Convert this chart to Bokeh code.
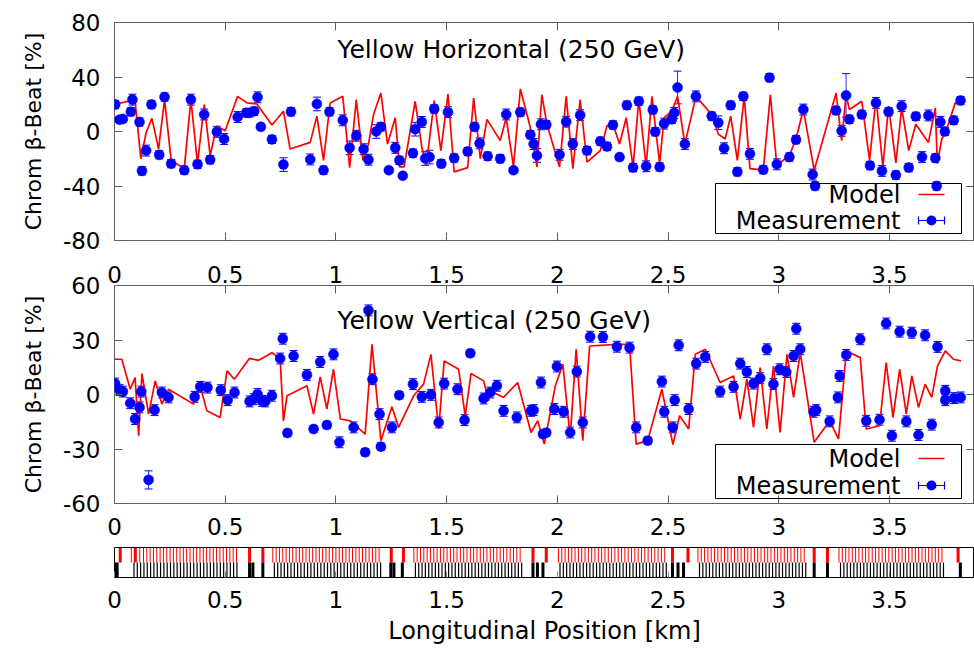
from bokeh.embed import file_html
from bokeh.layouts import column
from bokeh.models import (BoxAnnotation, ColumnDataSource, CustomJSTickFormatter,
                          FixedTicker, Label, LinearAxis, Range1d, TeeHead, Whisker)
from bokeh.plotting import figure
from bokeh.resources import INLINE

# ---------------- data ----------------
X_TICKS = [0, 0.5, 1, 1.5, 2, 2.5, 3, 3.5]
H_TICKS = [-80, -40, 0, 40, 80]
V_TICKS = [-60, -30, 0, 30, 60]

# Horizontal plane: measured chromatic beta-beat at BPMs [km, %, %]
H_KM = [0.003, 0.023, 0.038, 0.074, 0.081, 0.113, 0.124, 0.143, 0.167, 0.202,
        0.226, 0.256, 0.315, 0.345, 0.375, 0.405, 0.432, 0.462, 0.495, 0.556,
        0.595, 0.610, 0.631, 0.646, 0.661, 0.711, 0.763, 0.797, 0.884, 0.914,
        0.944, 0.971, 1.031, 1.062, 1.092, 1.125, 1.147, 1.182, 1.203, 1.239,
        1.268, 1.287, 1.302, 1.348, 1.358, 1.388, 1.403, 1.423, 1.444, 1.476,
        1.506, 1.534, 1.595, 1.626, 1.649, 1.685, 1.742, 1.769, 1.802, 1.833,
        1.878, 1.893, 1.908, 1.926, 1.950,
        2.010, 2.040, 2.070, 2.103, 2.134, 2.194, 2.224, 2.251, 2.281, 2.314,
        2.342, 2.368, 2.401, 2.431, 2.442, 2.462, 2.482, 2.517, 2.528, 2.543,
        2.576, 2.626, 2.697, 2.727, 2.753, 2.783, 2.813, 2.840, 2.870, 2.930,
        2.958, 2.991, 3.048, 3.078, 3.111, 3.153, 3.164, 3.259, 3.284, 3.304,
        3.319, 3.375, 3.412, 3.439, 3.466, 3.496, 3.529, 3.555, 3.587, 3.619,
        3.647, 3.676, 3.707, 3.713, 3.730, 3.750, 3.790, 3.821]
H_MEAS = [19.8, 8.7, 9.2, 14.5, 23.4, 7.0, -28.9, -14.0, 19.8, -17.1,
          25.3, -23.6, -28.4, 23.4, -24.1, 12.5, -20.7, -0.2, -5.5, 10.6,
          13.7, 13.7, 14.9, 25.1, 3.4, -5.8, -24.3, 14.5, -20.5, 20.2,
          -28.4, 14.5, 8.2, -12.0, -3.1, -13.0, -20.7, 0.0, 3.4, -28.4,
          -12.0, -21.2, -32.5, -15.9, 1.7, 7.0, -19.8, -18.8, 16.6, -23.6,
          14.2, -19.5, -14.7, 3.4, -8.7, -18.1, -20.0, 12.5, -28.4, 14.2,
          -2.4, -9.2, -17.6, 5.3, 5.0,
          -17.1, 7.2, -9.2, 12.0, -14.0, -7.2, -11.0, 4.8, -18.8, 19.3,
          -26.5, 22.2, -25.5, 15.9, -0.2, -26.0, 5.8, 8.9, 13.7, 32.3,
          -9.2, 25.8, 11.3, 6.5, -12.3, 19.3, -29.6, 25.8, -16.4, -28.0,
          39.5, -24.1, -18.8, -6.0, 16.1, -31.6, -40.0, 15.4, 0.5, 26.5,
          8.9, 12.5, -25.0, 21.0, -28.9, 14.5, -32.0, 18.6, -26.5, 11.1,
          -18.8, 11.8, -19.5, -40.0, 7.0, 0.0, 8.2, 22.7]
H_ERR = [3, 2, 2, 3, 4, 3, 3, 4, 3, 3,
         3, 3, 3, 4, 3, 4, 3, 4, 4, 4,
         3, 3, 3, 4, 2, 3, 5, 3, 4, 5,
         3, 3, 4, 5, 4, 4, 4, 5, 3, 2,
         4, 3, 2, 3, 5, 4, 5, 5, 3, 3,
         4, 3, 3, 3, 4, 3, 3, 4, 2, 3,
         3, 4, 5, 4, 3,
         4, 4, 4, 4, 3, 3, 3, 3, 2, 3,
         3, 3, 4, 3, 3, 3, 4, 3, 4, 12,
         4, 4, 3, 5, 4, 3, 3, 3, 4, 3,
         3, 4, 3, 3, 4, 4, 3, 3, 4, 16,
         3, 3, 3, 4, 4, 3, 3, 4, 3, 3,
         4, 4, 3, 3, 4, 3, 3, 3]

# Horizontal plane: model prediction
HM_KM = [0.0, 0.074, 0.093, 0.119, 0.143, 0.169, 0.199, 0.226, 0.256, 0.315,
         0.345, 0.375, 0.405, 0.432, 0.462, 0.500, 0.556, 0.598, 0.643, 0.711,
         0.763, 0.793, 0.884, 0.914, 0.944, 0.974, 1.031, 1.062, 1.092, 1.122,
         1.147, 1.170, 1.203, 1.233, 1.268, 1.287, 1.308, 1.358, 1.388, 1.408,
         1.444, 1.474, 1.506, 1.534, 1.595, 1.622, 1.652, 1.682, 1.742, 1.769,
         1.802, 1.833, 1.878, 1.908, 1.930, 1.953, 2.010, 2.040, 2.070, 2.103,
         2.134, 2.194, 2.224, 2.251, 2.281, 2.311, 2.342, 2.368, 2.401, 2.427,
         2.462, 2.482, 2.517, 2.543, 2.576, 2.626, 2.697, 2.727, 2.758, 2.783,
         2.813, 2.844, 2.870, 2.930, 2.962, 2.991, 3.048, 3.078, 3.111, 3.160,
         3.259, 3.284, 3.304, 3.319, 3.375, 3.410, 3.439, 3.470, 3.496, 3.529,
         3.555, 3.587, 3.619, 3.676, 3.707, 3.716, 3.736, 3.756, 3.797, 3.827]
HM_VAL = [19.8, 22.7, 22.2, -20.0, -0.7, 9.6, -12.8, 23.4, -21.2, -27.2,
          23.4, -23.6, 19.8, -17.6, 4.1, 0.5, 25.8, 21.0, 20.2, 4.8,
          14.9, -12.8, -8.0, 11.3, -21.2, 21.0, 25.8, -26.5, 23.4, -21.2,
          -9.2, 12.5, 28.2, -9.2, 10.1, -26.0, -26.0, 22.2, -11.6, -24.8,
          22.7, -14.0, 27.5, -29.6, -26.5, 24.6, -20.0, 8.9, -6.7, 10.1,
          -26.0, 31.3, 2.9, -26.0, 27.0, 5.3, -26.0, 25.8, -27.2, 23.4,
          -22.4, -14.0, 4.1, 5.3, -9.2, 10.1, -26.0, 23.4, -25.5, 25.8,
          -23.6, 10.1, 14.9, 25.8, -9.2, 25.8, 12.5, -1.9, -5.5, 11.3,
          -21.2, 25.8, -27.2, -28.4, 27.0, -24.8, -17.6, -5.5, 16.1, -28.4,
          28.2, -6.7, 27.0, 16.1, 22.2, -21.2, 24.6, -26.0, 18.6, -23.1,
          17.4, -14.0, 5.3, -8.0, 17.4, -23.6, -5.5, 0.5, 21.0, 21.0]

# Vertical plane: measured chromatic beta-beat at BPMs
V_KM = [0.003, 0.023, 0.038, 0.071, 0.093, 0.113, 0.121, 0.154, 0.181, 0.214,
        0.244, 0.362, 0.387, 0.420, 0.480, 0.511, 0.542, 0.610, 0.628, 0.646,
        0.666, 0.681, 0.711, 0.748, 0.760, 0.781, 0.809, 0.869, 0.899, 0.929,
        0.959, 0.989, 1.016, 1.080, 1.132, 1.147, 1.165, 1.197, 1.203, 1.253,
        1.286, 1.348, 1.388, 1.429, 1.464, 1.489, 1.549, 1.581, 1.607, 1.667,
        1.697, 1.727, 1.757, 1.817, 1.881, 1.893, 1.926, 1.935, 1.950,
        1.986, 1.998, 2.028, 2.058, 2.088, 2.115, 2.148, 2.206, 2.269, 2.326,
        2.356, 2.408, 2.472, 2.483, 2.521, 2.530, 2.548, 2.593, 2.627, 2.668,
        2.735, 2.796, 2.826, 2.856, 2.886, 2.916, 2.946, 2.976, 3.004, 3.034,
        3.067, 3.079, 3.097, 3.157, 3.169, 3.230, 3.267, 3.275, 3.305, 3.368,
        3.395, 3.455, 3.485, 3.511, 3.546, 3.576, 3.601, 3.631, 3.661, 3.691,
        3.717, 3.752, 3.752, 3.792, 3.822]
V_MEAS = [6.0, 2.4, 1.6, -4.8, -13.5, -7.1, 1.6, -47.0, -8.6, 1.1,
          -1.6, -1.3, 4.2, 3.8, 2.4, -3.1, 1.1, -3.8, -2.6, 0.2,
          -3.5, -3.8, -0.7, 19.8, 30.7, -21.2, 21.2, 10.8, -19.0, 17.9,
          -16.8, 22.1, -26.3, -18.1, -31.8, 46.3, 8.4, -10.8, -28.7, -18.1,
          -0.4, 5.7, -1.3, -0.2, -15.4, 6.0, 2.9, -14.1, 22.7, -2.2,
          1.1, 4.8, -9.0, -12.6, -9.0, -8.6, 6.6, -21.8, -21.0,
          -8.0, 15.4, -9.5, -20.9, 12.6, -15.4, 31.8, 31.6, 26.3, 25.8,
          -18.1, -25.4, 7.1, -9.5, -18.1, -3.1, 27.1, -8.0, 17.0, 20.7,
          1.6, 4.2, 17.0, 12.4, 6.0, 9.0, 24.9, 5.7, 13.9, 12.4,
          21.2, 36.2, 24.9, -9.5, -8.6, -14.8, -1.6, 10.2, 21.8, 30.4,
          -14.5, -13.9, 39.1, -22.7, 34.6, -14.8, 34.0, -22.3, 32.6, -16.6,
          26.2, 2.0, -3.1, -2.0, -1.6]
V_ERR = [3, 3, 3, 3, 3, 3, 3, 5, 3, 3,
         3, 3, 3, 3, 3, 3, 3, 3, 3, 3,
         3, 3, 3, 3, 3, 2, 3, 3, 2, 3,
         2, 3, 3, 3, 2, 3, 3, 3, 2, 3,
         2, 3, 3, 3, 3, 3, 3, 3, 2, 3,
         3, 3, 3, 3, 3, 3, 3, 2, 2,
         3, 3, 3, 3, 3, 3, 3, 3, 3, 3,
         3, 2, 3, 3, 3, 3, 3, 3, 3, 3,
         3, 3, 3, 3, 3, 3, 3, 3, 3, 3,
         3, 3, 3, 3, 3, 3, 3, 3, 3, 3,
         3, 3, 3, 3, 3, 3, 3, 3, 3, 3,
         3, 3, 3, 3, 3]

# Vertical plane: model prediction
VM_KM = [0.0, 0.033, 0.071, 0.093, 0.109, 0.124, 0.154, 0.184, 0.214, 0.244,
         0.357, 0.387, 0.417, 0.477, 0.508, 0.541, 0.610, 0.651, 0.711, 0.748,
         0.763, 0.779, 0.869, 0.899, 0.929, 0.959, 0.989, 1.020, 1.065, 1.132,
         1.163, 1.203, 1.253, 1.283, 1.351, 1.396, 1.429, 1.464, 1.489, 1.554,
         1.584, 1.610, 1.667, 1.690, 1.697, 1.757, 1.821, 1.881, 1.911, 1.941,
         1.991, 2.025, 2.058, 2.085, 2.115, 2.146, 2.269, 2.326, 2.356, 2.408,
         2.472, 2.522, 2.552, 2.593, 2.623, 2.668, 2.735, 2.796, 2.826, 2.856,
         2.886, 2.916, 2.946, 2.976, 3.006, 3.037, 3.067, 3.097, 3.160, 3.230,
         3.270, 3.305, 3.368, 3.395, 3.455, 3.485, 3.516, 3.546, 3.576, 3.601,
         3.631, 3.661, 3.691, 3.717, 3.752, 3.789, 3.823]
VM_VAL = [19.4, 19.4, 2.9, 9.3, -22.7, 11.5, -10.8, 7.5, -5.3, 2.9,
          -5.3, 4.8, -9.0, -12.6, 13.0, 8.4, 19.9, 18.8, 23.0, 19.9,
          -14.5, -0.7, 4.8, -10.8, 9.7, -8.0, 13.9, -13.5, -14.5, -21.8,
          27.6, -25.4, -6.8, -18.1, -0.7, 5.7, 22.1, -19.0, 18.5, 13.9,
          -11.7, 11.5, 7.5, -3.5, 2.0, -1.6, 6.6, -20.9, -14.5, -27.3,
          4.8, 16.6, -23.6, 24.9, -25.4, 26.7, 27.6, 27.6, -27.3, -25.4,
          2.9, -27.6, -11.7, -19.0, 22.1, 24.9, 6.6, 10.2, -13.5, 8.4,
          -18.1, 14.8, -19.0, 15.7, -20.9, 22.1, -1.6, 23.0, -26.3, -14.5,
          -24.5, 24.0, 20.3, -19.0, -17.2, 17.6, -12.6, 13.9, -10.8, 10.2,
          -7.1, 5.7, -1.6, 15.7, 24.0, 19.4, 18.5]

# Lattice: sextupole positions (upper row, red) and quadrupole positions (lower row, black) [km]
SEXT_ARC = [0.131, 0.146, 0.161, 0.176, 0.191, 0.206, 0.221, 0.236, 0.251, 0.266,
            0.281, 0.296, 0.311, 0.326, 0.341, 0.356, 0.371, 0.386, 0.401, 0.416,
            0.431, 0.446, 0.461, 0.476, 0.491, 0.506, 0.521, 0.536, 0.551,
            0.715, 0.730, 0.745, 0.760, 0.775, 0.790, 0.805, 0.820, 0.835, 0.850,
            0.865, 0.880, 0.895, 0.910, 0.925, 0.940, 0.955, 0.970, 0.985, 1.000,
            1.015, 1.030, 1.045, 1.060, 1.075, 1.090, 1.105, 1.120, 1.135, 1.150,
            1.165, 1.180, 1.195,
            1.352, 1.367, 1.382, 1.397, 1.412, 1.427, 1.442, 1.457, 1.472, 1.487,
            1.502, 1.517, 1.532, 1.547, 1.562, 1.577, 1.592, 1.607, 1.622, 1.637,
            1.652, 1.667, 1.682, 1.697, 1.712, 1.727, 1.742, 1.757, 1.772, 1.787,
            1.802, 1.817, 1.832,
            2.005, 2.020, 2.035, 2.050, 2.065, 2.080, 2.095, 2.110, 2.125, 2.140,
            2.155, 2.170, 2.185, 2.200, 2.215, 2.230, 2.245, 2.260, 2.275, 2.290,
            2.305, 2.320, 2.335, 2.350, 2.365, 2.380, 2.395, 2.410, 2.425, 2.440,
            2.455, 2.470, 2.485,
            2.635, 2.650, 2.665, 2.680, 2.695, 2.710, 2.725, 2.740, 2.755, 2.770,
            2.785, 2.800, 2.815, 2.830, 2.845, 2.860, 2.875, 2.890, 2.905, 2.920,
            2.935, 2.950, 2.965, 2.980, 2.995, 3.010, 3.025, 3.040, 3.055, 3.070,
            3.085, 3.100, 3.115,
            3.272, 3.287, 3.302, 3.317, 3.332, 3.347, 3.362, 3.377, 3.392, 3.407,
            3.422, 3.437, 3.452, 3.467, 3.482, 3.497, 3.512, 3.527, 3.542, 3.557,
            3.572, 3.587, 3.602, 3.617, 3.632, 3.647, 3.662, 3.677, 3.692, 3.707,
            3.722, 3.737,
            0.076, 0.114]
SEXT_IR = [0.026, 0.094, 0.610, 0.670, 1.250, 1.305, 1.890, 1.950,
           2.520, 2.590, 3.160, 3.220, 3.810]
QUAD_ARC = [0.088, 0.103, 0.118, 0.133, 0.148, 0.163, 0.178, 0.193, 0.208, 0.223,
            0.238, 0.253, 0.268, 0.283, 0.298, 0.313, 0.328, 0.343, 0.358, 0.373,
            0.388, 0.403, 0.418, 0.433, 0.448, 0.463, 0.478, 0.493, 0.508, 0.523,
            0.538, 0.553,
            0.722, 0.737, 0.752, 0.767, 0.782, 0.797, 0.812, 0.827, 0.842, 0.857,
            0.872, 0.887, 0.902, 0.917, 0.932, 0.947, 0.962, 0.977, 0.992, 1.007,
            1.022, 1.037, 1.052, 1.067, 1.082, 1.097, 1.112, 1.127, 1.142, 1.157,
            1.172, 1.187, 1.202,
            1.359, 1.374, 1.389, 1.404, 1.419, 1.434, 1.449, 1.464, 1.479, 1.494,
            1.509, 1.524, 1.539, 1.554, 1.569, 1.584, 1.599, 1.614, 1.629, 1.644,
            1.659, 1.674, 1.689, 1.704, 1.719, 1.734, 1.749, 1.764, 1.779, 1.794,
            1.809, 1.824, 1.839,
            2.012, 2.027, 2.042, 2.057, 2.072, 2.087, 2.102, 2.117, 2.132, 2.147,
            2.162, 2.177, 2.192, 2.207, 2.222, 2.237, 2.252, 2.267, 2.282, 2.297,
            2.312, 2.327, 2.342, 2.357, 2.372, 2.387, 2.402, 2.417, 2.432, 2.447,
            2.462, 2.477, 2.492,
            2.642, 2.657, 2.672, 2.687, 2.702, 2.717, 2.732, 2.747, 2.762, 2.777,
            2.792, 2.807, 2.822, 2.837, 2.852, 2.867, 2.882, 2.897, 2.912, 2.927,
            2.942, 2.957, 2.972, 2.987, 3.002, 3.017, 3.032, 3.047, 3.062, 3.077,
            3.092, 3.107, 3.122,
            3.279, 3.294, 3.309, 3.324, 3.339, 3.354, 3.369, 3.384, 3.399, 3.414,
            3.429, 3.444, 3.459, 3.474, 3.489, 3.504, 3.519, 3.534, 3.549, 3.564,
            3.579, 3.594, 3.609, 3.624, 3.639, 3.654, 3.669, 3.684, 3.699, 3.714,
            3.729, 3.744]
QUAD_IR = [0.004, 0.012, 0.610, 0.625, 0.670, 1.248, 1.262, 1.300, 1.890, 1.910,
           1.935, 2.520, 2.545, 2.570, 3.160, 3.220, 3.820]

# ---------------- styling ----------------
FONT = "DejaVu Sans"
FRAME = "#5f5f5f"
BLUE = "#0000ff"
RED = "#ff0000"
X_MAX = 3.884
TICK_FMT = "return String(tick)"
NO_LABEL_FMT = "return ''"


def style_axis(ax, ticks, show_labels=True, standoff=15, tick_color=FRAME):
    ax.ticker = FixedTicker(ticks=ticks)
    ax.minor_tick_line_color = None
    ax.major_tick_in = 8
    ax.major_tick_out = 0
    ax.major_tick_line_color = tick_color
    ax.axis_line_color = None
    ax.major_label_text_font = FONT
    ax.major_label_text_color = "#000000"
    if show_labels:
        ax.formatter = CustomJSTickFormatter(code=TICK_FMT)
        ax.major_label_text_font_size = "23px"
        ax.major_label_standoff = standoff
    else:
        # mirrored tick marks only
        ax.formatter = CustomJSTickFormatter(code=NO_LABEL_FMT)
        ax.major_label_text_font_size = "1px"
        ax.major_label_standoff = 0


def legend_box(p, bottom, top, row_model, row_meas):
    scr = dict(left_units="screen", right_units="screen",
               top_units="screen", bottom_units="screen")
    p.add_layout(BoxAnnotation(left=601, right=847, bottom=bottom, top=top,
                               fill_alpha=0, line_color="#000000", line_width=1,
                               line_alpha=1, **scr))
    for txt, row in (("Model", row_model), ("Measurement", row_meas)):
        p.add_layout(Label(x=786, y=row, x_units="screen", y_units="screen",
                           text=txt, text_align="right", text_baseline="middle",
                           text_font=FONT, text_font_size="24px",
                           text_color="#000000"))
    # model sample
    p.add_layout(BoxAnnotation(left=804, right=830, bottom=row_model - 0.8,
                               top=row_model + 0.8, fill_color=RED, fill_alpha=1,
                               line_color=None, **scr))
    # measurement sample: horizontal bar, end caps and dot
    p.add_layout(BoxAnnotation(left=804, right=830, bottom=row_meas - 0.6,
                               top=row_meas + 0.6, fill_color=BLUE, fill_alpha=1,
                               line_color=None, **scr))
    for cx in (804, 830):
        p.add_layout(BoxAnnotation(left=cx - 0.6, right=cx + 0.6, bottom=row_meas - 4,
                                   top=row_meas + 4, fill_color=BLUE, fill_alpha=1,
                                   line_color=None, **scr))
    p.add_layout(BoxAnnotation(left=812, right=822, bottom=row_meas - 5,
                               top=row_meas + 5, fill_color=BLUE, fill_alpha=1,
                               line_color=None, border_radius=5, **scr))


def beta_panel(height, b_top, b_bottom, y_lim, y_ticks, title, title_y,
               km, meas, err, mkm, mval, leg, labels_above, labels_below):
    p = figure(width=974, height=height, x_range=Range1d(0, X_MAX),
               y_range=Range1d(-y_lim, y_lim), output_backend="svg",
               toolbar_location=None, min_border_left=114, min_border_right=0,
               min_border_top=b_top, min_border_bottom=b_bottom)
    p.grid.visible = False
    p.outline_line_color = FRAME
    p.outline_line_width = 1
    p.background_fill_color = "#ffffff"
    p.border_fill_color = "#ffffff"

    bottom_ax = p.below[0]
    left_ax = p.left[0]
    style_axis(bottom_ax, X_TICKS, show_labels=labels_below, standoff=14)
    style_axis(left_ax, y_ticks, standoff=14)
    left_ax.axis_label = "Chrom \u03b2-Beat [%]"
    left_ax.axis_label_text_font = FONT
    left_ax.axis_label_text_font_size = "22px"
    left_ax.axis_label_text_font_style = "normal"
    left_ax.axis_label_text_color = "#000000"
    left_ax.axis_label_standoff = 14

    # the upper panel's km labels sit on this panel's top axis
    top_ax = LinearAxis()
    style_axis(top_ax, X_TICKS, show_labels=labels_above, standoff=3)
    p.add_layout(top_ax, "above")
    right_ax = LinearAxis()
    style_axis(right_ax, y_ticks, show_labels=False)
    p.add_layout(right_ax, "right")

    p.line(mkm, mval, line_color=RED, line_width=1.7)

    src = ColumnDataSource(dict(
        km=km, beat=meas,
        lo=[m - e for m, e in zip(meas, err)],
        hi=[m + e for m, e in zip(meas, err)]))
    p.add_layout(Whisker(source=src, base="km", lower="lo", upper="hi",
                         dimension="height", line_color=BLUE, line_width=1,
                         line_alpha=0.85,
                         upper_head=TeeHead(size=8, line_color=BLUE, line_width=1),
                         lower_head=TeeHead(size=8, line_color=BLUE, line_width=1)))
    p.scatter("km", "beat", source=src, size=10, fill_color=BLUE,
              line_color=BLUE, line_width=0.5)

    p.add_layout(Label(x=223, y=title_y, x_units="screen", y_units="screen",
                       text=title, text_baseline="middle", text_font=FONT,
                       text_font_size="25px", text_color="#000000"))
    legend_box(p, *leg)
    return p


p1 = beta_panel(255, 22, 15, 80, H_TICKS, "Yellow Horizontal (250 GeV)", 191,
                H_KM, H_MEAS, H_ERR, HM_KM, HM_VAL, (7, 57, 46, 20), False, False)
p2 = beta_panel(291, 30, 43, 60, V_TICKS, "Yellow Vertical (250 GeV)", 183,
                V_KM, V_MEAS, V_ERR, VM_KM, VM_VAL, (5, 59, 45, 18), True, True)

# lattice strip
p3 = figure(width=974, height=106, x_range=Range1d(0, X_MAX), y_range=Range1d(0, 2),
            output_backend="svg", toolbar_location=None, min_border_left=114,
            min_border_right=0, min_border_top=1, min_border_bottom=75)
p3.grid.visible = False
p3.outline_line_color = "#000000"
p3.yaxis.visible = False
strip_ax = p3.below[0]
style_axis(strip_ax, X_TICKS, standoff=13, tick_color="#888888")
strip_ax.major_tick_in = 6
strip_ax.axis_label = "Longitudinal Position [km]"
strip_ax.axis_label_text_font = FONT
strip_ax.axis_label_text_font_size = "24px"
strip_ax.axis_label_text_font_style = "normal"
strip_ax.axis_label_text_color = "#000000"
strip_ax.axis_label_standoff = 6

p3.segment(x0="s", y0=1.0, x1="s", y1=2.0, source=ColumnDataSource(dict(s=SEXT_ARC)),
           line_color=RED, line_width=1)
p3.segment(x0="s", y0=1.0, x1="s", y1=2.0, source=ColumnDataSource(dict(s=SEXT_IR)),
           line_color=RED, line_width=3)
p3.segment(x0="s", y0=0.0, x1="s", y1=1.0, source=ColumnDataSource(dict(s=QUAD_ARC)),
           line_color="#000000", line_width=1.2)
p3.segment(x0="s", y0=0.0, x1="s", y1=1.0, source=ColumnDataSource(dict(s=QUAD_IR)),
           line_color="#000000", line_width=3)

layout = column(p1, p2, p3, spacing=0)
open("out.html", "w").write(file_html(layout, INLINE))
